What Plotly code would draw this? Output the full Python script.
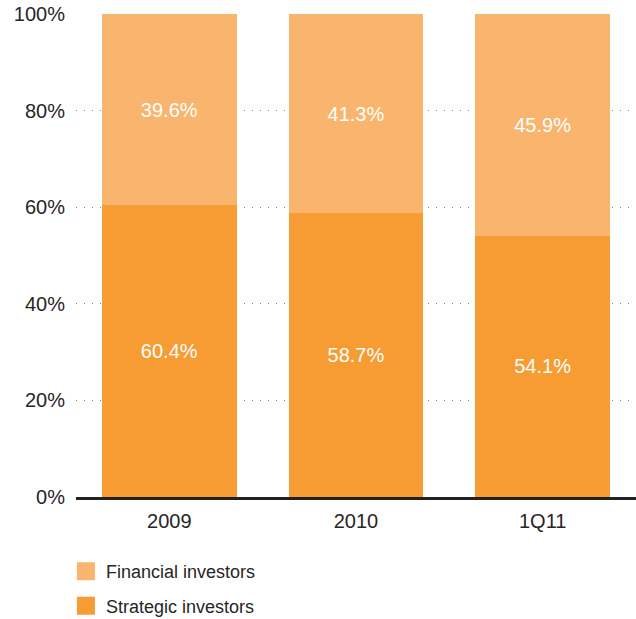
import plotly.graph_objects as go

periods = ['2009', '2010', '1Q11']
strategic = [60.4, 58.7, 54.1]
financial = [39.6, 41.3, 45.9]

COL_STRAT = '#F79C33'
COL_FIN = '#F9B56D'
FONT = 'Liberation Sans, Arial, sans-serif'

fig = go.Figure()

fig.add_trace(go.Bar(
    x=periods, y=strategic, name='Strategic investors',
    marker=dict(color=COL_STRAT, line=dict(width=0)),
    text=[f'{v:.1f}%' for v in strategic], textposition='inside',
    insidetextanchor='middle', textfont=dict(color='white', size=20, family=FONT),
    showlegend=False,
))
fig.add_trace(go.Bar(
    x=periods, y=financial, name='Financial investors',
    marker=dict(color=COL_FIN, line=dict(width=0)),
    text=[f'{v:.1f}%' for v in financial], textposition='inside',
    insidetextanchor='middle', textfont=dict(color='white', size=20, family=FONT),
    showlegend=False,
))

# legend proxies (bigger squares than the default bar swatch)
for name, col, grp in [('Financial investors', COL_FIN, 'a'),
                       ('Strategic investors', COL_STRAT, 'b')]:
    fig.add_trace(go.Scatter(
        x=[None], y=[None], mode='markers', name=name, legendgroup=grp,
        marker=dict(symbol='square', size=16, color=col, line=dict(color=col, width=2)),
    ))

fig.update_layout(
    width=636, height=619,
    barmode='stack', bargap=0.28,
    plot_bgcolor='white', paper_bgcolor='white',
    margin=dict(l=76, r=0, t=14, b=122, autoexpand=False),
    font=dict(family=FONT, size=20, color='#262626'),
    uniformtext=dict(mode='show', minsize=20),
    legend=dict(
        x=-0.018, xanchor='left', y=-0.116, yanchor='top',
        font=dict(size=18, color='#262626'),
        itemsizing='trace', tracegroupgap=8,
        bgcolor='rgba(0,0,0,0)',
    ),
)

fig.update_xaxes(
    showline=True, linecolor='#222222', linewidth=2.5,
    showgrid=False, ticks='', tickfont=dict(size=20, color='#262626'),
    ticklabelstandoff=4, automargin=False,
)
fig.update_yaxes(
    range=[0, 100], tickvals=[0, 20, 40, 60, 80, 100],
    ticktext=['0%', '20%', '40%', '60%', '80%', '100%'],
    showgrid=True, gridcolor='#8a8a8a', gridwidth=1, griddash='1px,7px',
    zeroline=False, showline=False, ticks='',
    tickfont=dict(size=20, color='#262626'), ticklabelstandoff=10,
    automargin=False,
)

# page has a default 8px body margin; drop it so the figure fills the window
fig.write_html('out.html', config={'displayModeBar': False},
               post_script="document.body.style.margin='0';")
